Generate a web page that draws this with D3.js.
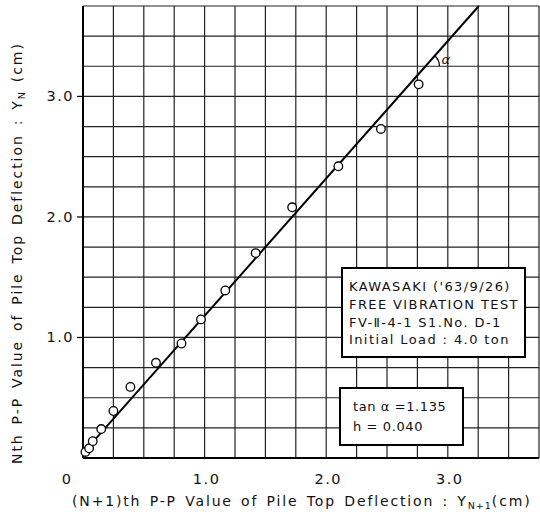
<!DOCTYPE html>
<html>
<head>
<meta charset="utf-8">
<script src="https://cdn.jsdelivr.net/npm/d3@7"></script>
<style>
  body { margin: 0; background: #fff; }
  text { font-family: "DejaVu Sans", sans-serif; fill: #111; }
</style>
</head>
<body>
<script>
// measured points: Y(N+1) on x, Y(N) on y, both cm
var xVals = [0.02, 0.05, 0.08, 0.15, 0.25, 0.39, 0.60, 0.81, 0.97, 1.17, 1.42, 1.72, 2.10, 2.45, 2.76];
var yVals = [0.05, 0.08, 0.14, 0.24, 0.39, 0.59, 0.79, 0.95, 1.15, 1.39, 1.70, 2.08, 2.42, 2.73, 3.10];

// fitted line, two ends
var fitLine = [ {x: 0, y: 0.04}, {x: 3.255, y: 3.75} ];

var xTicks = [0, 1, 2, 3];
var xTickLabels = ["0", "1.0", "2.0", "3.0"];
var yTicks = [1, 2, 3];
var yTickLabels = ["1.0", "2.0", "3.0"];
var gridSteps = [0.25, 0.5, 0.75, 1, 1.25, 1.5, 1.75, 2, 2.25, 2.5, 2.75, 3, 3.25, 3.5, 3.75];

var infoLines = ["KAWASAKI ('63/9/26)", "FREE VIBRATION TEST", "FV-\u2161-4-1  S1.No. D-1", "Initial Load : 4.0 ton"];
var resultLines = ["tan \u03b1 =1.135", "h = 0.040"];

var points = xVals.map(function(d, i) { return {x: d, y: yVals[i]}; });

var svg = d3.select("body").append("svg").attr("width", 540).attr("height", 521);

var x = d3.scaleLinear().domain([0, 3.75]).range([83, 539]);
var y = d3.scaleLinear().domain([0, 3.75]).range([458, 6]);

// grid
var grid = svg.append("g").attr("stroke", "#222").attr("stroke-width", 1.2);
grid.selectAll("line.v").data(gridSteps).enter().append("line")
	.attr("class", "v")
	.attr("x1", function(d) { return x(d); }).attr("x2", function(d) { return x(d); })
	.attr("y1", y(0)).attr("y2", y(3.75));
grid.selectAll("line.h").data(gridSteps).enter().append("line")
	.attr("class", "h")
	.attr("x1", x(0)).attr("x2", x(3.75))
	.attr("y1", function(d) { return y(d); }).attr("y2", function(d) { return y(d); });

// left and bottom axis lines
svg.append("line").attr("x1", x(0)).attr("x2", x(0)).attr("y1", y(0)).attr("y2", y(3.75))
	.attr("stroke", "#000").attr("stroke-width", 2);
svg.append("line").attr("x1", x(0)).attr("x2", x(3.75)).attr("y1", y(0)).attr("y2", y(0))
	.attr("stroke", "#000").attr("stroke-width", 2);

// y ticks
svg.selectAll("line.ytick").data(yTicks).enter().append("line")
	.attr("class", "ytick")
	.attr("x1", x(0) - 6).attr("x2", x(0))
	.attr("y1", function(d) { return y(d); }).attr("y2", function(d) { return y(d); })
	.attr("stroke", "#000").attr("stroke-width", 1.2);
svg.selectAll("text.ylab").data(yTicks).enter().append("text")
	.attr("class", "ylab")
	.attr("x", x(0) - 9)
	.attr("y", function(d) { return y(d) + 5; })
	.attr("text-anchor", "end")
	.attr("font-size", 14.5)
	.attr("letter-spacing", 1.5)
	.text(function(d, i) { return yTickLabels[i]; });

// x tick labels
svg.selectAll("text.xlab").data(xTicks).enter().append("text")
	.attr("class", "xlab")
	.attr("x", function(d) { return d === 0 ? x(d) - 16 : x(d) + 2; })
	.attr("y", 484)
	.attr("text-anchor", "middle")
	.attr("font-size", 14.5)
	.attr("letter-spacing", 1.5)
	.text(function(d, i) { return xTickLabels[i]; });

// axis titles
var xt = svg.append("text").attr("x", 72).attr("y", 506).attr("font-size", 14)
	.attr("letter-spacing", 1.85).attr("word-spacing", 2);
xt.append("tspan").text("(N+1)th P-P Value of Pile Top Deflection : Y");
xt.append("tspan").attr("font-size", 9.5).attr("dy", 3).attr("letter-spacing", 1).text("N+1");
xt.append("tspan").attr("dy", -3).text("(cm)");

var yt = svg.append("text").attr("transform", "translate(22,464) rotate(-90)").attr("font-size", 14)
	.attr("letter-spacing", 1.95).attr("word-spacing", 2.5);
yt.append("tspan").text("Nth P-P Value of Pile Top Deflection : Y");
yt.append("tspan").attr("font-size", 9.5).attr("dy", 3).attr("letter-spacing", 1).text("N");
yt.append("tspan").attr("dy", -3).text(" (cm)");

// fitted line
var line = d3.line()
	.x(function(d) { return x(d.x); })
	.y(function(d) { return y(d.y); });
svg.append("path")
	.attr("fill", "none")
	.attr("stroke", "#000")
	.attr("stroke-width", 2)
	.attr("d", line(fitLine));

// angle mark
var slope = (fitLine[1].y - fitLine[0].y) / (fitLine[1].x - fitLine[0].x);
var cx = x((3.25 - fitLine[0].y) / slope), cy = y(3.25);
var ang = Math.atan2(y(fitLine[1].y) - y(fitLine[0].y), x(fitLine[1].x) - x(fitLine[0].x));
var r = 14;
svg.append("path")
	.attr("fill", "none").attr("stroke", "#000").attr("stroke-width", 1.2)
	.attr("d", "M" + (cx + r * Math.cos(ang)) + "," + (cy + r * Math.sin(ang)) +
		" A" + r + "," + r + " 0 0,1 " + (cx + r) + "," + cy);
svg.append("text").attr("x", cx + 16).attr("y", cy - 2)
	.attr("font-size", 13).attr("font-style", "italic").text("\u03b1");

// points
svg.selectAll("circle.pt").data(points).enter().append("circle")
	.attr("class", "pt")
	.attr("cx", function(d) { return x(d.x); })
	.attr("cy", function(d) { return y(d.y); })
	.attr("r", 4.3)
	.attr("fill", "#fff")
	.attr("stroke", "#000")
	.attr("stroke-width", 1.3);

// info boxes
svg.append("rect").attr("x", 342).attr("y", 268).attr("width", 183).attr("height", 89)
	.attr("fill", "#fff").attr("stroke", "#000").attr("stroke-width", 2);
svg.selectAll("text.info").data(infoLines).enter().append("text")
	.attr("class", "info")
	.attr("x", 349)
	.attr("y", function(d, i) { return 291 + i * 17.8; })
	.attr("font-size", 13)
	.attr("letter-spacing", 1.4)
	.text(function(d) { return d; });

svg.append("rect").attr("x", 340).attr("y", 388).attr("width", 123).attr("height", 57)
	.attr("fill", "#fff").attr("stroke", "#000").attr("stroke-width", 2);
svg.selectAll("text.res").data(resultLines).enter().append("text")
	.attr("class", "res")
	.attr("x", 353)
	.attr("y", function(d, i) { return 411 + i * 20; })
	.attr("font-size", 13)
	.attr("letter-spacing", 0.6)
	.text(function(d) { return d; });
</script>
</body>
</html>
